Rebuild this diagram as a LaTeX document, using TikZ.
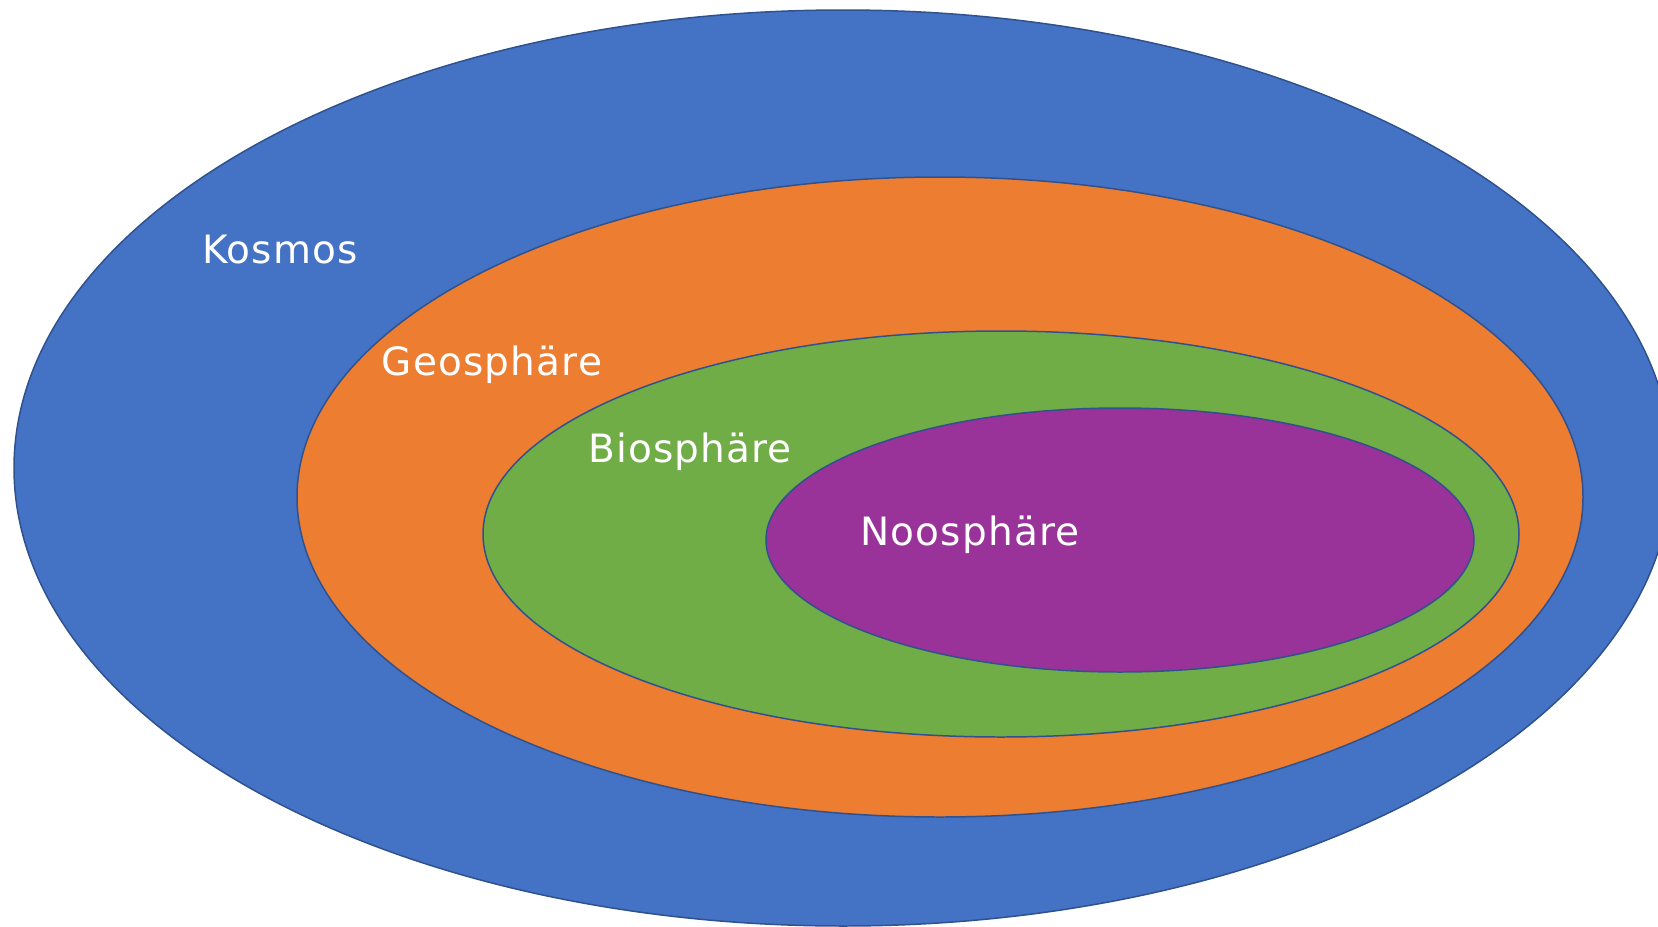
\documentclass[tikz,border=0pt]{standalone}
\usepackage{fontspec}
\setmainfont{DejaVu Sans}
\newfontfamily\spherefont[LetterSpace=3]{DejaVu Sans}
\usepackage{tikz}
\usetikzlibrary{positioning}

\definecolor{kosmosblue}{HTML}{4472C4}
\definecolor{geoorange}{HTML}{ED7D31}
\definecolor{biogreen}{HTML}{70AD47}
\definecolor{noopurple}{HTML}{993399}
\definecolor{rimblue}{HTML}{2F528F}

\begin{document}
\begin{tikzpicture}[
  x=0.02cm, y=-0.02cm,
  %%── Styles ───────────────────────────────────────────────────────────────
  sphere/.style={draw=rimblue, line width=0.85pt},
  spherelabel/.style={
    text=white, anchor=base, inner sep=0pt,
    font=\spherefont\fontsize{22.2}{26}\selectfont
  },
]

%%── Canvas (1658 x 927 px) ──────────────────────────────────────────────
\useasboundingbox (0,0) rectangle (1658,927);
\clip (0,0) rectangle (1658,927);

%%── Nested spheres (outer → inner) ──────────────────────────────────────
\draw[sphere, fill=kosmosblue] (843,468) ellipse [x radius=829, y radius=458];
\draw[sphere, fill=geoorange]  (940,497) ellipse [x radius=643, y radius=320];
\draw[sphere, fill=biogreen]  (1001,534) ellipse [x radius=518, y radius=203];
\draw[sphere, fill=noopurple] (1120,540) ellipse [x radius=354, y radius=132];

%%── Labels ──────────────────────────────────────────────────────────────
\node[spherelabel] (kosmos) at (280,263) {Kosmos};
\node[spherelabel] (geo)    at (492,375) {Geosphäre};
\node[spherelabel] (bio)    at (690,462) {Biosphäre};
\node[spherelabel] (noo)    at (970,545) {Noosphäre};

\end{tikzpicture}
\end{document}
